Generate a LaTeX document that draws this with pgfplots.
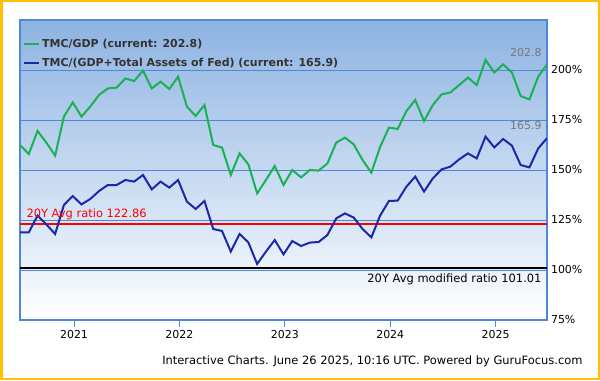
\documentclass[border=0pt]{standalone}
\usepackage{pgfplots}
\pgfplotsset{compat=1.18}
\usepackage{fontspec}
\setmainfont{DejaVu Sans}
\definecolor{gline}{RGB}{24,178,84}
\definecolor{bline}{RGB}{28,40,170}
\definecolor{gridblue}{RGB}{80,136,216}
\definecolor{bgtop}{RGB}{141,179,226}
\definecolor{bordercol}{RGB}{255,192,0}
\definecolor{legtext}{RGB}{51,51,51}
\definecolor{curgray}{RGB}{120,120,120}
\pgfplotstableread{
i tmc tmcfed
0 162.5 118.8
1 158.0 118.8
2 169.5 127.2
3 163.7 122.8
4 157.2 118.0
5 176.7 132.5
6 183.8 137.0
7 176.7 132.8
8 181.7 135.5
9 187.5 139.5
10 190.8 142.5
11 191.2 142.5
12 195.8 145.0
13 194.5 144.2
14 199.7 147.5
15 190.8 140.3
16 194.2 144.2
17 190.5 141.2
18 196.7 145.0
19 181.7 134.2
20 177.0 130.5
21 182.5 134.5
22 162.5 120.5
23 161.2 119.5
24 147.5 109.2
25 158.3 118.0
26 152.8 113.8
27 138.3 103.0
28 145.0 109.2
29 152.0 115.0
30 142.5 107.8
31 150.0 114.5
32 146.3 112.0
33 150.0 113.7
34 149.7 114.0
35 153.3 117.5
36 163.7 125.8
37 166.2 128.3
38 162.8 126.2
39 155.0 120.5
40 148.7 116.3
41 161.5 127.2
42 171.2 134.5
43 170.5 134.7
44 179.5 141.7
45 185.0 146.7
46 174.5 139.2
47 182.5 145.8
48 187.8 150.3
49 188.8 151.7
50 192.5 155.3
51 196.2 158.3
52 192.5 155.8
53 205.0 166.7
54 198.8 161.3
55 202.8 165.5
56 198.8 162.2
57 187.0 152.5
58 185.3 151.3
59 196.7 160.8
60 202.8 165.9
}\datatable
\begin{document}
\begin{tikzpicture}[x=1bp,y=1bp]
\useasboundingbox (0,0) rectangle (600,380);
\fill[white] (0,0) rectangle (600,380);
\draw[bordercol, line width=2.5bp] (1.25,1.25) rectangle (598.75,378.75);
\begin{axis}[
  at={(20bp,60bp)}, anchor=south west,
  scale only axis, width=527bp, height=300bp,
  xmin=0, xmax=60, ymin=75, ymax=225,
  axis background/.style={top color=bgtop, bottom color=white},
  axis line style={gridblue, line width=1.2bp},
  ymajorgrids, grid style={gridblue, line width=0.9bp},
  ytick={75,100,125,150,175,200},
  yticklabel pos=right,
  yticklabel={\pgfmathprintnumber{\tick}\%},
  ytick style={draw=none},
  yticklabel style={font=\fontsize{11}{13}\selectfont, anchor=west, xshift=-6.5bp},
  /pgf/number format/assume math mode=true,
  xtick={6.15,18.15,30.15,42.15,54.15},
  xticklabels={2021,2022,2023,2024,2025},
  xtick pos=bottom, tick align=outside,
  xtick style={gridblue, line width=1bp},
  major tick length=7bp,
  xticklabel style={font=\fontsize{11}{13}\selectfont},
  legend style={at={(0,1)}, anchor=north west, xshift=3bp, yshift=-17bp,
    draw=none, fill=none, font=\bfseries\fontsize{11}{13}\selectfont, text=legtext,
    row sep=5bp, inner sep=0pt},
  legend cell align=left,
  legend image code/.code={\draw[#1] (0bp,0bp) -- (15bp,0bp);},
]
\addplot[red, line width=2bp, forget plot] coordinates {(0,122.86) (60,122.86)};
\addplot[black, line width=1.5bp, forget plot] coordinates {(0,101.01) (60,101.01)};
\addplot[gline, line width=2bp] table[x=i, y=tmc] {\datatable};
\addlegendentry{TMC/GDP (current: 202.8)}
\addplot[bline, line width=2bp] table[x=i, y=tmcfed] {\datatable};
\addlegendentry{TMC/(GDP+Total Assets of Fed) (current: 165.9)}
\node[red, anchor=base west, font=\fontsize{11.5}{13}\selectfont] at (axis cs:0,122.86) [xshift=3bp, yshift=7bp] {20Y Avg ratio 122.86};
\node[black, anchor=base east, font=\fontsize{11.5}{13}\selectfont] at (axis cs:60,101.01) [xshift=-2bp, yshift=-15bp] {20Y Avg modified ratio 101.01};
\node[curgray, anchor=base east, font=\fontsize{11}{13}\selectfont] at (axis cs:60,202.8) [xshift=-2bp, yshift=8bp] {202.8};
\node[curgray, anchor=base east, font=\fontsize{11}{13}\selectfont] at (axis cs:60,165.9) [xshift=-2bp, yshift=8.5bp] {165.9};
\end{axis}
\node[anchor=base east, font=\fontsize{11.5}{13}\selectfont] at (586,16) {Interactive Charts. June 26 2025, 10:16 UTC. Powered by GuruFocus.com};
\end{tikzpicture}
\end{document}
